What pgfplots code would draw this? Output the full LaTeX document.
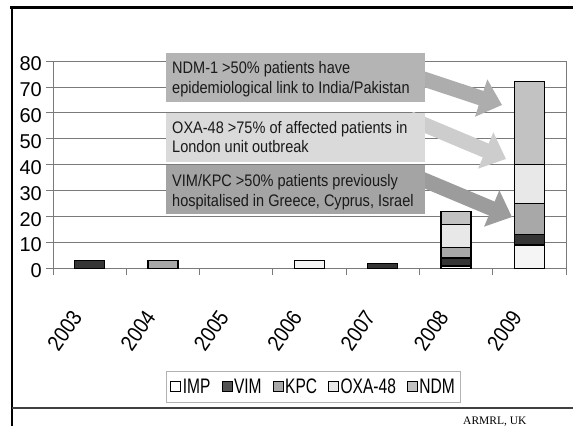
\documentclass[border=0pt]{standalone}
\usepackage{fontspec}
\setmainfont{Liberation Sans}
\newfontfamily\condfont[FakeStretch=0.87]{Liberation Sans}
\newfontfamily\legfont[FakeStretch=0.74]{Liberation Sans}
\newfontfamily\serfont{Liberation Serif}
\usepackage{pgfplots}
\pgfplotsset{compat=1.18}
\usetikzlibrary{arrows.meta}
\definecolor{cIMP}{HTML}{F5F5F5}
\definecolor{cVIM}{HTML}{353535}
\definecolor{cKPC}{HTML}{A8A8A8}
\definecolor{cOXA}{HTML}{E8E8E8}
\definecolor{cNDM}{HTML}{C2C2C2}
\definecolor{gridc}{HTML}{7A7A7A}
\definecolor{boxA}{HTML}{B4B4B4}
\definecolor{boxB}{HTML}{DADADA}
\definecolor{boxC}{HTML}{A4A4A4}
\definecolor{arrA}{HTML}{ADADAD}
\definecolor{arrB}{HTML}{CDCDCD}
\definecolor{arrC}{HTML}{9C9C9C}
\definecolor{txt}{HTML}{1A1A1A}
\begin{document}
\begin{tikzpicture}[x=1pt,y=1pt]
\useasboundingbox (0,0) rectangle (573,426);
\fill[white] (0,0) rectangle (573,426);
\begin{axis}[
  at={(53pt,157.5pt)}, anchor=south west,
  scale only axis, width=513pt, height=207.5pt,
  xmin=-0.5, xmax=6.5, ymin=0, ymax=80,
  ytick={0,10,...,80},
  xtick={-0.5,0.5,...,6.5},
  xticklabels={2003,2004,2005,2006,2007,2008,2009,{}},
  ymajorgrids, grid style={draw=gridc, line width=0.8pt},
  axis line style={draw=gridc, line width=0.8pt},
  tick align=outside, xtick pos=bottom, ytick pos=left,
  major tick length=6.5pt,
  tick style={draw=gridc, line width=0.8pt},
  /pgf/number format/assume math mode=true,
  yticklabel style={font=\fontsize{20}{20}\selectfont, anchor=east, inner sep=0pt, xshift=-4.5pt, yshift=-2.5pt},
  xticklabel style={font=\condfont\fontsize{22}{22}\selectfont, inner sep=0pt, anchor=east, xshift=24pt, yshift=-38pt, rotate=55},
  legend image code/.code={\draw[#1, draw=black, line width=1pt] (0pt,-5pt) rectangle (10pt,5pt);},
  legend columns=-1,
  legend cell align=left,
  legend style={at={(0.2203,-0.648)}, anchor=south west, draw=gray!60, line width=0.8pt,
    font=\legfont\fontsize{21}{21}\selectfont, inner xsep=4pt, inner ysep=6pt,
    nodes={inner sep=1.5pt},
    /tikz/every even column/.append style={column sep=9.5pt}},
]
% bars drawn as cumulative tops, largest first (visual stacking)
\addplot[ybar, bar width=30pt, bar shift=0pt, fill=cNDM, draw=black, line width=1.4pt, forget plot] coordinates {(5,22) (6,72)};
\addplot[ybar, bar width=30pt, bar shift=0pt, fill=cOXA, draw=black, line width=1.4pt, forget plot] coordinates {(5,17) (6,40)};
\addplot[ybar, bar width=30pt, bar shift=0pt, fill=cKPC, draw=black, line width=1.4pt, forget plot] coordinates {(1,3) (5,8) (6,25)};
\addplot[ybar, bar width=30pt, bar shift=0pt, fill=cVIM, draw=black, line width=1.4pt, forget plot] coordinates {(0,3) (4,2) (5,4) (6,13)};
\addplot[ybar, bar width=30pt, bar shift=0pt, fill=cIMP, draw=black, line width=1.4pt, forget plot] coordinates {(3,3) (5,1) (6,9)};
\addlegendimage{fill=white}
\addlegendentry{IMP}
\addlegendimage{fill=cVIM!85}
\addlegendentry{VIM}
\addlegendimage{fill=cKPC}
\addlegendentry{KPC}
\addlegendimage{fill=cOXA}
\addlegendentry{OXA-48}
\addlegendimage{fill=cNDM}
\addlegendentry{NDM}
\end{axis}
% annotation arrows
\draw[line width=15pt, draw=arrA, -{Triangle[width=38pt,length=22pt]}] (410,351.5) -- (502,321);
\draw[line width=15pt, draw=arrB, -{Triangle[width=38pt,length=22pt]}] (410,307.3) -- (506,267);
\draw[line width=15pt, draw=arrC, -{Triangle[width=38pt,length=22pt]}] (410,251.8) -- (512,209);
% annotation boxes
\fill[boxA] (166,324) rectangle (425,373);
\fill[boxB] (166,264) rectangle (425,313);
\fill[boxC] (166,212) rectangle (425,261);
\begin{scope}[every node/.style={anchor=base west, inner sep=0pt, text=txt, font=\condfont\fontsize{16.7}{20}\selectfont}]
\node at (172,352.5) {NDM-1 >50\% patients have};
\node at (172,332) {epidemiological link to India/Pakistan};
\node at (172,292.7) {OXA-48 >75\% of affected patients in};
\node at (172,273.3) {London unit outbreak};
\node at (172,239.3) {VIM/KPC >50\% patients previously};
\node at (172,219.3) {hospitalised in Greece, Cyprus, Israel};
\end{scope}
% slide frame
\draw[line width=2.5pt, black] (10,418.6) -- (573,418.6);
\draw[line width=2.5pt, black] (12,0) -- (12,419.8);
\draw[line width=1.2pt, black!75] (12,18) -- (573,18);
\node[anchor=base west, inner sep=0pt, font=\serfont\fontsize{11.5}{12}\selectfont] at (463,2) {ARMRL, UK};
\end{tikzpicture}
\end{document}
